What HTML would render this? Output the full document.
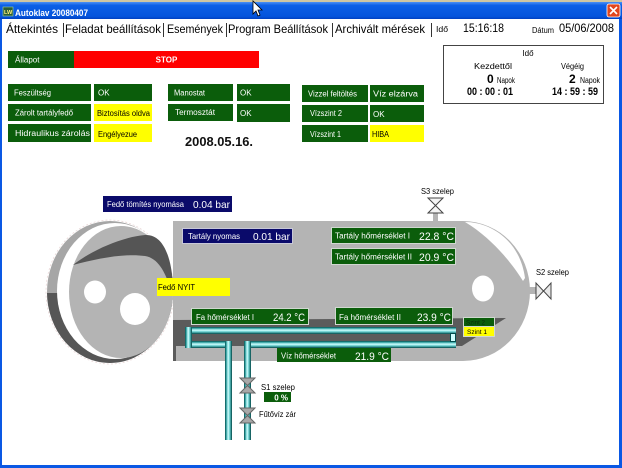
<!DOCTYPE html>
<html><head><meta charset="utf-8"><style>
html,body{margin:0;padding:0;background:#fff;width:622px;height:468px;overflow:hidden}
svg{display:block}
</style></head><body>
<svg xmlns="http://www.w3.org/2000/svg" width="622" height="468" viewBox="0 0 622 468" font-family="'Liberation Sans', sans-serif">
<defs>
<linearGradient id="tb" x1="0" y1="0" x2="0" y2="1">
<stop offset="0" stop-color="#4a90f5"/><stop offset="0.2" stop-color="#0c5fe6"/><stop offset="0.85" stop-color="#0454dc"/><stop offset="1" stop-color="#0040c0"/>
</linearGradient>
<linearGradient id="ph" x1="0" y1="0" x2="0" y2="1">
<stop offset="0" stop-color="#004c4c"/><stop offset="0.2" stop-color="#3aa8a8"/><stop offset="0.45" stop-color="#d0ffff"/><stop offset="0.7" stop-color="#60c8c8"/><stop offset="1" stop-color="#004444"/>
</linearGradient>
<linearGradient id="pv" x1="0" y1="0" x2="1" y2="0">
<stop offset="0" stop-color="#004c4c"/><stop offset="0.2" stop-color="#3aa8a8"/><stop offset="0.45" stop-color="#d0ffff"/><stop offset="0.7" stop-color="#60c8c8"/><stop offset="1" stop-color="#004444"/>
</linearGradient>
<clipPath id="low"><rect x="0" y="293" width="200" height="100"/></clipPath>
</defs>

<rect x="0" y="0" width="622" height="468" fill="#fff"/>

<!-- title bar -->
<rect x="0" y="0" width="622" height="3" fill="#cfc6a2"/>
<rect x="0" y="2" width="622" height="17" fill="url(#tb)"/>
<rect x="3" y="7" width="10" height="9" fill="#2c5e36" stroke="#9fd39f" stroke-width="0.6"/>
<text x="4" y="14" font-size="5.5" fill="#ffef80" font-weight="bold">LW</text>
<text x="15" y="16" font-size="9" font-weight="bold" fill="#fff" textLength="73" lengthAdjust="spacingAndGlyphs">Autoklav 20080407</text>
<rect x="607" y="4" width="13" height="13" rx="2" fill="#e2461e" stroke="#fff" stroke-width="0.8"/>
<path d="M610 7 L617 14 M617 7 L610 14" stroke="#fff" stroke-width="1.6"/>
<!-- cursor -->
<polygon points="253,1 253,14 256,11 258,16 260,15 258,10 262,10" fill="#fff" stroke="#000" stroke-width="0.8"/>

<!-- window borders -->
<rect x="0" y="19" width="2" height="449" fill="#0a58e4"/>
<rect x="619" y="19" width="3" height="449" fill="#0a58e4"/>
<rect x="0" y="465" width="622" height="3" fill="#0a58e4"/>

<!-- tabs -->
<text x="6" y="33" font-size="12" fill="#000" textLength="52" lengthAdjust="spacingAndGlyphs">Áttekintés</text>
<line x1="63.5" y1="23" x2="63.5" y2="37" stroke="#333"/>
<text x="65" y="33" font-size="12" fill="#000" textLength="96" lengthAdjust="spacingAndGlyphs">Feladat beállítások</text>
<line x1="163.5" y1="23" x2="163.5" y2="37" stroke="#333"/>
<text x="167" y="33" font-size="12" fill="#000" textLength="56" lengthAdjust="spacingAndGlyphs">Események</text>
<line x1="226.5" y1="23" x2="226.5" y2="37" stroke="#333"/>
<text x="228" y="33" font-size="12" fill="#000" textLength="100" lengthAdjust="spacingAndGlyphs">Program Beállítások</text>
<line x1="332.5" y1="23" x2="332.5" y2="37" stroke="#333"/>
<text x="335" y="33" font-size="12" fill="#000" textLength="90" lengthAdjust="spacingAndGlyphs">Archivált mérések</text>
<line x1="431.5" y1="23" x2="431.5" y2="37" stroke="#333"/>
<text x="436" y="32" font-size="8" fill="#000" textLength="12" lengthAdjust="spacingAndGlyphs">Idő</text>
<text x="463" y="32" font-size="11.5" fill="#000" textLength="41" lengthAdjust="spacingAndGlyphs">15:16:18</text>
<text x="532" y="33" font-size="8" fill="#000" textLength="22" lengthAdjust="spacingAndGlyphs">Dátum</text>
<text x="559" y="32" font-size="12" fill="#000" textLength="55" lengthAdjust="spacingAndGlyphs">05/06/2008</text>

<!-- status -->
<rect x="8" y="51" width="66" height="17" fill="#0b5d0b"/>
<text x="15" y="62.5" font-size="8" fill="#fff">Állapot</text>
<rect x="74" y="51" width="185" height="17" fill="#ff0000"/>
<text x="166.5" y="62.5" font-size="8" font-weight="bold" fill="#fff" text-anchor="middle">STOP</text>

<!-- left group -->
<rect x="8" y="84" width="83" height="17" fill="#0b5d0b"/>
<text x="14" y="95.5" font-size="8" fill="#fff" textLength="37" lengthAdjust="spacingAndGlyphs">Feszültség</text>
<rect x="94" y="84" width="58" height="17" fill="#0b5d0b"/>
<text x="98" y="95.5" font-size="8" fill="#fff">OK</text>
<rect x="8" y="104" width="83" height="17" fill="#0b5d0b"/>
<text x="15" y="115.5" font-size="8" fill="#fff" textLength="58" lengthAdjust="spacingAndGlyphs">Zárolt tartályfedő</text>
<rect x="94" y="104" width="58" height="17" fill="#ffff00"/>
<text x="97" y="116" font-size="8" fill="#000" textLength="53" lengthAdjust="spacingAndGlyphs">Biztosítás oldva</text>
<rect x="8" y="124" width="83" height="18" fill="#0b5d0b"/>
<text x="15" y="136" font-size="8" fill="#fff" textLength="75" lengthAdjust="spacingAndGlyphs">Hidraulikus zárolás</text>
<rect x="94" y="124" width="58" height="18" fill="#ffff00"/>
<text x="98" y="137" font-size="8" fill="#000" textLength="39" lengthAdjust="spacingAndGlyphs">Engélyezue</text>

<!-- middle group -->
<rect x="168" y="84" width="65" height="17" fill="#0b5d0b"/>
<text x="174" y="95.5" font-size="8" fill="#fff" textLength="31" lengthAdjust="spacingAndGlyphs">Manostat</text>
<rect x="237" y="84" width="53" height="17" fill="#0b5d0b"/>
<text x="240" y="95.5" font-size="8" fill="#fff">OK</text>
<rect x="168" y="104" width="65" height="17" fill="#0b5d0b"/>
<text x="175" y="115" font-size="8" fill="#fff" textLength="40" lengthAdjust="spacingAndGlyphs">Termosztát</text>
<rect x="237" y="104" width="53" height="18" fill="#0b5d0b"/>
<text x="240" y="116" font-size="8" fill="#fff">OK</text>
<text x="185" y="146" font-size="13" font-weight="bold" fill="#111" textLength="68" lengthAdjust="spacingAndGlyphs">2008.05.16.</text>

<!-- right group -->
<rect x="302" y="85" width="66" height="17" fill="#0b5d0b"/>
<text x="308" y="96.5" font-size="8" fill="#fff" textLength="49" lengthAdjust="spacingAndGlyphs">Vizzel feltöltés</text>
<rect x="370" y="85" width="54" height="17" fill="#0b5d0b"/>
<text x="373" y="96.5" font-size="8" fill="#fff" textLength="45" lengthAdjust="spacingAndGlyphs">Víz elzárva</text>
<rect x="302" y="105" width="66" height="17" fill="#0b5d0b"/>
<text x="310" y="116" font-size="8" fill="#fff" textLength="32" lengthAdjust="spacingAndGlyphs">Vízszint 2</text>
<rect x="370" y="105" width="54" height="17" fill="#0b5d0b"/>
<text x="373" y="117" font-size="8" fill="#fff">OK</text>
<rect x="302" y="125" width="66" height="17" fill="#0b5d0b"/>
<text x="310" y="137" font-size="8" fill="#fff" textLength="31" lengthAdjust="spacingAndGlyphs">Vízszint 1</text>
<rect x="370" y="125" width="54" height="17" fill="#ffff00"/>
<text x="372" y="137" font-size="8" fill="#000" textLength="17" lengthAdjust="spacingAndGlyphs">HIBA</text>

<!-- time box -->
<rect x="443.5" y="45.5" width="160" height="58" fill="#fff" stroke="#444" stroke-width="1"/>
<text x="528" y="56" font-size="8" fill="#000" text-anchor="middle">Idő</text>
<text x="474" y="69" font-size="8" fill="#000" textLength="38" lengthAdjust="spacingAndGlyphs">Kezdettől</text>
<text x="561" y="69" font-size="8" fill="#000" textLength="23" lengthAdjust="spacingAndGlyphs">Végéig</text>
<text x="487" y="83" font-size="12" font-weight="bold" fill="#000">0</text>
<text x="497" y="83" font-size="8" fill="#000" textLength="18" lengthAdjust="spacingAndGlyphs">Napok</text>
<text x="569" y="83" font-size="12" font-weight="bold" fill="#000">2</text>
<text x="580" y="83" font-size="8" fill="#000" textLength="20" lengthAdjust="spacingAndGlyphs">Napok</text>
<text x="467" y="95" font-size="11" font-weight="bold" fill="#000" textLength="46" lengthAdjust="spacingAndGlyphs">00 : 00 : 01</text>
<text x="552" y="95" font-size="11" font-weight="bold" fill="#000" textLength="46" lengthAdjust="spacingAndGlyphs">14 : 59 : 59</text>

<!-- lid -->
<ellipse cx="110" cy="292" rx="64" ry="72" fill="none" stroke="#ead8d8" stroke-width="0.8" stroke-dasharray="2 2"/>
<ellipse cx="110" cy="292" rx="63" ry="71" fill="#a6a6a6"/>
<ellipse cx="110" cy="292" rx="63" ry="71" fill="#565656" clip-path="url(#low)"/>
<ellipse cx="115" cy="291" rx="58" ry="68" fill="#fff"/>
<ellipse cx="121" cy="292" rx="52" ry="66" fill="#b4b4b4"/>
<path d="M73,265 C92,250 122,237 145,235 C162,234 171,254 173,284 L170,287 C165,272 158,258 145,256 C124,253 96,259 73,265 Z" fill="#555555"/>
<ellipse cx="95" cy="292" rx="11" ry="11.5" fill="#fff"/>
<ellipse cx="135" cy="309" rx="15" ry="16" fill="#fff"/>

<!-- tank body -->
<path d="M173,221 L463,221 A67,70 0 0 1 463,361 L173,361 Z" fill="#b4b4b4"/>
<path d="M465,222 C490,222 520,240 525,278 L523,281 C515,268 495,240 465,222 Z" fill="#fff"/>
<ellipse cx="483" cy="288.5" rx="11" ry="13" fill="#fff"/>
<polygon points="173,320 506,318 462,346 173,346" fill="#5b5b5b"/>
<rect x="173" y="346" width="3" height="15" fill="#5b5b5b"/>

<!-- S3 valve -->
<rect x="433" y="212" width="5" height="10" fill="#b4b4b4"/>
<polygon points="428,198 443,198 435.5,205.5" fill="#f4f4f4" stroke="#444" stroke-width="1"/>
<polygon points="428,213 443,213 435.5,205.5" fill="#f4f4f4" stroke="#444" stroke-width="1"/>
<text x="421" y="194" font-size="8.5" fill="#000" textLength="33" lengthAdjust="spacingAndGlyphs">S3 szelep</text>

<!-- S2 valve -->
<rect x="527" y="287" width="10" height="7" fill="#b4b4b4"/>
<polygon points="536,283 536,299 543.5,291" fill="#e8e8e8" stroke="#444" stroke-width="1"/>
<polygon points="551,283 551,299 543.5,291" fill="#e8e8e8" stroke="#444" stroke-width="1"/>
<text x="536" y="275" font-size="8.5" fill="#000" textLength="33" lengthAdjust="spacingAndGlyphs">S2 szelep</text>

<!-- pipes -->
<rect x="185" y="327" width="271" height="7" fill="url(#ph)"/>
<rect x="185" y="341" width="47" height="7" fill="url(#ph)"/>
<rect x="244" y="341" width="212" height="7" fill="url(#ph)"/>
<rect x="185" y="327" width="7" height="21" fill="url(#pv)"/>
<rect x="450.5" y="333.5" width="5" height="8" fill="#cfffff" stroke="#004c4c" stroke-width="1"/>
<rect x="225" y="341" width="7" height="99" fill="url(#pv)"/>
<rect x="244" y="341" width="7" height="99" fill="url(#pv)"/>

<!-- S1 valve & Fűtővíz zár -->
<polygon points="240,378 255,378 247.5,385.5" fill="#a8a8a8" stroke="#666" stroke-width="1"/>
<polygon points="240,393 255,393 247.5,385.5" fill="#a8a8a8" stroke="#666" stroke-width="1"/>
<polygon points="240,408 255,408 247.5,415.5" fill="#a8a8a8" stroke="#666" stroke-width="1"/>
<polygon points="240,423 255,423 247.5,415.5" fill="#a8a8a8" stroke="#666" stroke-width="1"/>
<text x="261" y="390" font-size="8.5" fill="#000" textLength="34" lengthAdjust="spacingAndGlyphs">S1 szelep</text>
<rect x="264" y="392" width="27" height="10" fill="#0b5d0b"/>
<text x="288" y="400.5" font-size="8" font-weight="bold" fill="#fff" text-anchor="end">0 %</text>
<text x="259" y="417" font-size="8.5" fill="#000" textLength="37" lengthAdjust="spacingAndGlyphs">Fűtővíz zár</text>

<!-- navy labels -->
<rect x="103" y="196" width="129" height="16" fill="#0a0a6a"/>
<text x="107" y="207" font-size="8" fill="#fff" textLength="77" lengthAdjust="spacingAndGlyphs">Fedő tömítés nyomása</text>
<text x="193" y="208" font-size="10.5" fill="#fff" textLength="37" lengthAdjust="spacingAndGlyphs">0.04 bar</text>
<rect x="182.5" y="228.5" width="110" height="15" fill="#0a0a6a" stroke="#c8c8d8" stroke-width="1"/>
<text x="188" y="239" font-size="8" fill="#fff" textLength="52" lengthAdjust="spacingAndGlyphs">Tartály nyomas</text>
<text x="253" y="240" font-size="10.5" fill="#fff" textLength="37" lengthAdjust="spacingAndGlyphs">0.01 bar</text>

<!-- yellow Fedő NYIT -->
<rect x="157" y="278" width="73" height="18" fill="#ffff00"/>
<text x="158" y="290" font-size="8" fill="#000" textLength="37" lengthAdjust="spacingAndGlyphs">Fedő NYIT</text>

<!-- tank temperature labels -->
<rect x="331.5" y="227.5" width="124" height="16" fill="#0b5d0b" stroke="#d0d8d0" stroke-width="1"/>
<text x="335" y="238.5" font-size="8" fill="#fff" textLength="75" lengthAdjust="spacingAndGlyphs">Tartály hőmérséklet I</text>
<text x="419" y="240" font-size="11" fill="#fff" textLength="35" lengthAdjust="spacingAndGlyphs">22.8 °C</text>
<rect x="331.5" y="248.5" width="124" height="16" fill="#0b5d0b" stroke="#d0d8d0" stroke-width="1"/>
<text x="335" y="259.5" font-size="8" fill="#fff" textLength="77" lengthAdjust="spacingAndGlyphs">Tartály hőmérséklet II</text>
<text x="419" y="261" font-size="11" fill="#fff" textLength="35" lengthAdjust="spacingAndGlyphs">20.9 °C</text>

<rect x="191.5" y="308.5" width="117" height="16" fill="#0b5d0b" stroke="#d0d8d0" stroke-width="1"/>
<text x="196" y="320" font-size="8" fill="#fff" textLength="58" lengthAdjust="spacingAndGlyphs">Fa hőmérséklet I</text>
<text x="273" y="321" font-size="11" fill="#fff" textLength="32" lengthAdjust="spacingAndGlyphs">24.2 °C</text>
<rect x="335.5" y="307.5" width="117" height="17" fill="#0b5d0b" stroke="#d0d8d0" stroke-width="1"/>
<text x="339" y="320" font-size="8" fill="#fff" textLength="62" lengthAdjust="spacingAndGlyphs">Fa hőmérséklet II</text>
<text x="417" y="321" font-size="11" fill="#fff" textLength="34" lengthAdjust="spacingAndGlyphs">23.9 °C</text>
<rect x="277" y="348" width="114" height="14" fill="#0b5d0b"/>
<text x="281" y="358.5" font-size="8" fill="#fff" textLength="55" lengthAdjust="spacingAndGlyphs">Víz hőmérséklet</text>
<text x="355" y="360" font-size="11" fill="#fff" textLength="34" lengthAdjust="spacingAndGlyphs">21.9 °C</text>

<!-- Szint -->
<rect x="463.5" y="317.5" width="31" height="9" fill="#0b5d0b" stroke="#d0d8d0" stroke-width="1"/>
<text x="466" y="324.5" font-size="6.5" fill="#0a2a0a" textLength="19" lengthAdjust="spacingAndGlyphs">Szint 2</text>
<rect x="463.5" y="326.5" width="31" height="10" fill="#ffff00" stroke="#d0d8d0" stroke-width="1"/>
<text x="467" y="334" font-size="6.5" fill="#000" textLength="20" lengthAdjust="spacingAndGlyphs">Szint 1</text>
</svg>
</body></html>
